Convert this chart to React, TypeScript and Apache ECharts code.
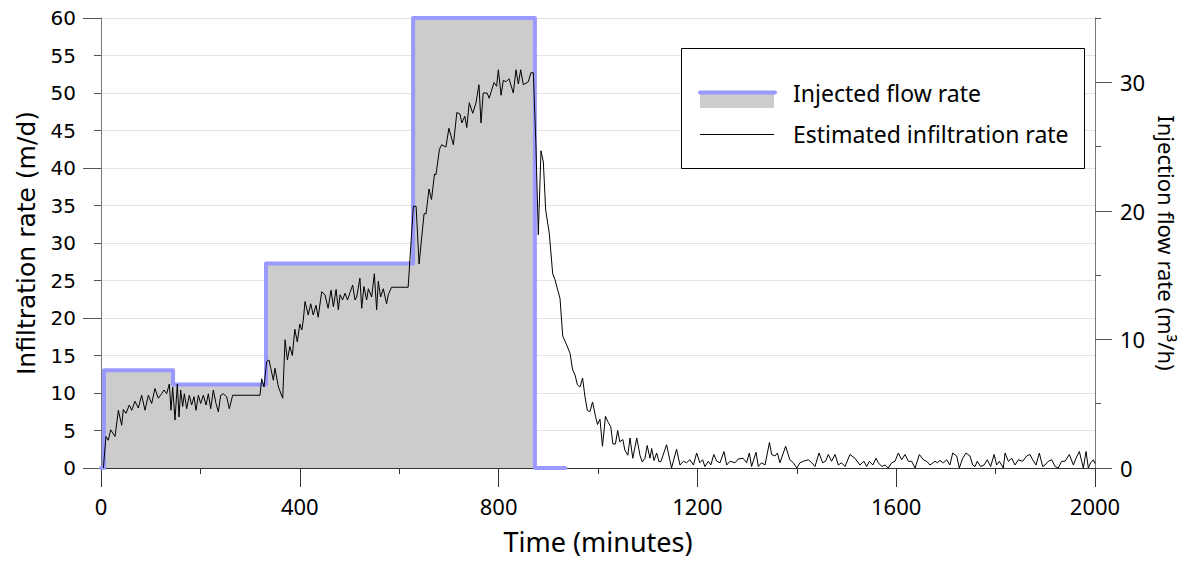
import React, { useEffect, useRef } from "react";
import * as echarts from "echarts";

// Injected flow rate (m³/h), step changes at these times (minutes)
const injTime = [0, 6, 145, 332, 628, 873, 934];
const injFlow = [0, 7.6, 6.5, 15.9, 35, 0, 0];

// Estimated infiltration rate (m/d) – [minutes, value]
const phase1: [number, number][] = [
  [4.7, 0], [10, 4.2], [14.7, 3.7], [19.4, 5.1], [28.2, 4.2], [34.9, 7.7], [41.6, 5.7], [44.9, 7.8],
  [50.3, 7.3], [57, 8.4], [61.7, 7.7], [68.4, 8.9], [75.1, 8.0], [81.8, 9.7], [88.5, 7.7], [95.2, 9.7],
  [101.9, 8.6], [108.6, 10.6], [115.3, 9.3], [122, 9.9], [126.7, 10.4], [132.1, 9.9], [137.5, 11.2],
  [140.8, 7.7], [144.2, 10.8],
];
const phase2: [number, number][] = [
  [148.9, 6.4], [153.6, 11.2], [157, 6.8], [160.3, 10.4], [164.3, 8.2], [167.7, 9.9], [172.4, 7.9],
  [177.7, 9.7], [182.4, 8.4], [187.1, 9.5], [191.1, 7.7], [195.9, 9.7], [200.5, 8.6], [205.9, 9.7],
  [211.3, 8.4], [216, 9.9], [220.7, 7.9], [226, 10.4], [231.4, 8.6], [236.1, 7.5], [240.8, 9.7],
  [246.1, 9.9], [252.9, 9.5], [258.2, 7.9], [264.9, 9.7], [319.9, 9.7], [323.3, 11.9], [328, 10.8],
  [333.3, 14.2], [338, 14.4], [346.8, 11.7], [350, 13.3], [357, 10.8], [365.6, 9.3], [370.3, 17.1],
  [375, 14.4], [380, 16.2], [385, 15.0], [390, 18.5], [395, 16.8], [400, 19.2], [404, 18.4],
];
const phase3: [number, number][] = [
  [407, 19.7], [410.5, 22.2], [417, 20.4], [422, 21.9], [427, 20.4], [432.6, 21.7], [437, 20.1],
  [444, 23.5], [450.6, 23.1], [457, 21.3], [462.8, 23.7], [467.6, 21.5], [473, 23.8], [477.6, 21.1],
  [481, 23.1], [486, 22.4], [491, 23.3], [496, 22.4], [501, 23.4], [506.4, 24.4], [511, 22.4],
  [514.4, 22.8], [521, 25.3], [524.5, 21.3], [529, 24.2], [534.5, 22.4], [538, 23.9], [544.6, 22.8],
  [550, 25.9], [554.6, 21.1], [558, 24.9], [562.6, 22.8], [568, 23.9], [574.6, 21.9], [578, 23.1],
  [584.6, 24.1], [618, 24.1],
];
const phase4: [number, number][] = [
  [628.5, 34.9], [634, 34.9], [640, 27.2], [650, 33.9], [654, 33.9], [660, 37.2], [665, 35.8],
  [671, 39.2], [674, 39.1], [681, 42.5], [685.5, 43.1], [694, 42.8], [700, 45.3], [709, 43.1],
  [716, 47.4], [722.3, 47.2], [726, 46.0], [732, 46.9], [736, 45.4], [741, 48.7], [748, 47.3],
  [754.5, 48.7], [760.5, 51.1], [764.6, 46.0], [769, 50.0], [777, 50.0], [781, 49.3], [790.8, 51.4],
  [796, 50.9], [799.5, 53.1], [805, 49.7], [809.5, 51.7], [815, 51.5], [821, 51.9], [829.6, 50.0],
  [835, 53.1], [839.7, 51.2], [844.4, 53.1], [849.7, 51.1], [859.8, 51.5], [865, 52.7], [869.9, 52.7],
];
const recession: [number, number][] = [
  [875, 43.3], [879.9, 31.1], [885.3, 42.3], [890, 40.8], [894.7, 34.4], [902, 31.3], [908.8, 25.9],
  [913.5, 25.1], [923.6, 22.6], [929, 17.6], [937, 16.4], [943.7, 15.3], [949, 13.1], [953.8, 12.4],
  [958.5, 11.1], [963.8, 10.8], [969, 12.0], [973.8, 9.5], [978.5, 7.7], [983.8, 7.5], [989, 8.8],
  [995, 6.9], [999, 5.8], [1004, 6.5], [1009, 2.9], [1015, 6.9], [1019.6, 6.2], [1025.7, 5.5],
  [1030, 3.2], [1035, 3.2], [1039.6, 5.0], [1044, 3.5], [1050, 3.8], [1054, 2.4], [1060, 1.7],
  [1064.4, 4.0], [1070, 1.3], [1078, 4.0], [1084.5, 1.7], [1089, 0.8], [1094.5, 1.3], [1099, 3.0],
  [1104.6, 1.3], [1108, 2.6], [1112.6, 1.0], [1118, 2.0], [1123, 0.8],
];
const tail: [number, number][] = [
  [1126.8, 0.9], [1138, 3.1], [1148, 0], [1158, 2.5], [1165, 0.4], [1172, 0.9], [1178, 0.7],
  [1185, 1.1], [1192, 0.4], [1198.5, 2.0], [1205, 0.7], [1210.6, 1.1], [1215, 0.2], [1222, 0.9],
  [1227, 0.4], [1233, 1.8], [1239, 0.9], [1245.5, 0.7], [1253.5, 2.2], [1259, 0.4], [1265.6, 0.9],
  [1275.7, 0.7], [1282, 1.2], [1292, 1.3], [1299, 0.7], [1304.5, 2.0], [1309, 0.2], [1318, 2.1],
  [1322.6, 0.2], [1329, 0.7], [1336, 0.4], [1345, 3.4], [1349.4, 1.8], [1356, 1.6], [1361, 2.0],
  [1366, 0.7], [1377.6, 2.9], [1386, 1.1], [1393, 0.7], [1400, 0], [1406.4, 0.7], [1413, 0.9],
  [1423, 1.1], [1430, 0.7], [1436.6, 0.2], [1444.7, 2.0], [1452, 0.7], [1458, 0.9], [1463.4, 1.8],
  [1470, 0.9], [1477, 1.8], [1483.6, 0.4], [1490, 0.7], [1497, 0.2], [1507, 1.8], [1517, 1.3],
  [1527, 0.4], [1535, 0.9], [1540.6, 0.2], [1546, 0.9], [1553, 0.4], [1559.4, 1.3], [1564, 0.7],
  [1571, 0.2], [1577.5, 0.4], [1584, 0], [1591, 0.7], [1597.6, 0.9], [1604.3, 2.0], [1611, 1.1],
  [1617.7, 1.8], [1624.5, 0.9], [1631, 0.9], [1638, 0], [1646.6, 1.8], [1654.6, 1.1], [1661.3, 0.9],
  [1668, 0.4], [1678, 0.9], [1683, 0.7], [1688, 1.0], [1695, 0.7], [1701.6, 1.1], [1708, 0.4],
  [1713.7, 2.0], [1721.7, 1.6], [1727, 0], [1733.8, 1.3], [1740.5, 2.0], [1748.5, 1.6], [1754, 0.4],
  [1758.6, 0.2], [1763, 0.9], [1770, 0.2], [1776.7, 0.4], [1783.4, 1.1], [1790, 0.2], [1797, 1.8],
  [1802.2, 0.4], [1807.6, 0.9], [1815.6, 0], [1819, 2.0], [1825.7, 0.9], [1832.4, 1.3], [1839, 0.4],
  [1845.8, 1.1], [1854.5, 0.9], [1862.5, 1.6], [1869.3, 1.8], [1874.6, 1.1], [1881.3, 0.4], [1888, 2.0],
  [1894.7, 0.2], [1899.4, 0.4], [1906, 0.9], [1913, 1.1], [1919.6, 0.2], [1926, 0], [1933, 0.9],
  [1939.7, 0.9], [1948.4, 1.8], [1956.5, 0.4], [1961.8, 1.3], [1968.5, 2.2], [1973.2, 0.9], [1976.6, 0],
  [1982, 2.2], [1986.6, 0], [1991.3, 0.7], [1996.7, 1.1], [2000, 0.6],
];

const xTicks = { min: 0, max: 2000, interval: 400 };
const leftTicks = { min: 0, max: 60, interval: 5 };
const rightTicks = { min: 0, max: 35, interval: 5 };
const rightLabelValues = [0, 10, 20, 30];

const legendNames = ["Injected flow rate", "Estimated infiltration rate"];

const AXIS = "#555";
const SANS = "Noto Sans";

export default function App() {
  const ref = useRef<HTMLDivElement>(null);
  useEffect(() => {
    if (!ref.current) return;
    const chart = echarts.init(ref.current, undefined, { renderer: "svg" });
    const injData = injTime.map((t, i) => [t, injFlow[i]]);
    const estData = [...phase1, ...phase2, ...phase3, ...phase4, ...recession, ...tail];
    chart.setOption({
      animation: false,
      backgroundColor: "#fff",
      grid: { left: 101, right: 95, top: 18, bottom: 96, containLabel: false },
      xAxis: {
        type: "value",
        ...xTicks,
        axisLine: { show: true, onZero: false, lineStyle: { color: "#333", width: 1 } },
        axisTick: { show: true, length: 19, lineStyle: { color: "#333" } },
        minorTick: { show: true, splitNumber: 2, length: 6, lineStyle: { color: "#333" } },
        axisLabel: {
          margin: 27,
          fontSize: 22,
          fontFamily: SANS,
          color: "#000",
          formatter: (v: number) => String(v),
        },
        splitLine: { show: false },
        name: "Time (minutes)",
        nameLocation: "middle",
        nameGap: 60,
        nameTextStyle: { fontSize: 27, fontFamily: SANS, color: "#000" },
      },
      yAxis: [
        {
          type: "value",
          position: "left",
          ...leftTicks,
          axisLine: { show: true, lineStyle: { color: "#777" } },
          axisTick: { show: true, length: 7, lineStyle: { color: AXIS } },
          axisLabel: { margin: 25, fontSize: 20, fontFamily: "DejaVu Sans", color: "#000" },
          splitLine: { show: true, lineStyle: { color: "#e3e3e3", width: 1 } },
          name: "Infiltration rate (m/d)",
          nameLocation: "middle",
          nameGap: 62,
          nameTextStyle: { fontSize: 25, fontFamily: "DejaVu Sans", color: "#000" },
        },
        {
          type: "value",
          position: "right",
          ...rightTicks,
          axisLine: { show: true, lineStyle: { color: "#777" } },
          axisTick: { show: true, length: 6, lineStyle: { color: AXIS } },
          axisLabel: {
            margin: 25,
            fontSize: 22,
            fontFamily: SANS,
            color: "#000",
            customValues: rightLabelValues,
          },
          splitLine: { show: false },
          name: "Injection flow rate (m³/h)",
          nameLocation: "middle",
          nameRotate: -90,
          nameGap: 61,
          nameTextStyle: { fontSize: 22, fontFamily: SANS, color: "#000" },
        },
        {
          type: "value",
          position: "left",
          min: 0,
          max: 60,
          interval: 20,
          axisLine: { show: false },
          axisTick: { show: true, length: 18, lineStyle: { color: AXIS } },
          axisLabel: { show: false },
          splitLine: { show: false },
        },
        {
          type: "value",
          position: "right",
          ...rightTicks,
          axisLine: { show: false },
          axisTick: { show: true, length: 17, lineStyle: { color: AXIS }, customValues: rightLabelValues },
          axisLabel: { show: false },
          splitLine: { show: false },
        },
      ],
      series: [
        {
          name: legendNames[0],
          type: "line",
          yAxisIndex: 1,
          step: "end",
          data: injData,
          showSymbol: false,
          symbol: "none",
          lineStyle: { color: "#9999ff", width: 4, cap: "round", join: "round" },
          areaStyle: { color: "#cccccc", opacity: 1 },
          z: 2,
        },
        {
          name: legendNames[1],
          type: "line",
          yAxisIndex: 0,
          data: estData,
          showSymbol: false,
          symbol: "none",
          lineStyle: { color: "#000", width: 1 },
          z: 3,
        },
      ],
      graphic: [
        {
          type: "rect",
          shape: { x: 681.5, y: 48.5, width: 403, height: 120 },
          style: { fill: "#fff", stroke: "#000", lineWidth: 1 },
          z: 10,
        },
        {
          type: "rect",
          shape: { x: 700, y: 94, width: 74, height: 14 },
          style: { fill: "#cccccc" },
          z: 11,
        },
        {
          type: "line",
          shape: { x1: 700, y1: 92.5, x2: 775, y2: 92.5 },
          style: { stroke: "#9999ff", lineWidth: 4, lineCap: "round" },
          z: 12,
        },
        {
          type: "line",
          shape: { x1: 700, y1: 134.5, x2: 774, y2: 134.5 },
          style: { stroke: "#000", lineWidth: 1 },
          z: 12,
        },
        {
          type: "text",
          x: 793,
          y: 93,
          style: { text: legendNames[0], fontSize: 23, fontFamily: SANS, fill: "#000", textVerticalAlign: "middle" },
          z: 12,
        },
        {
          type: "text",
          x: 793,
          y: 134,
          style: { text: legendNames[1], fontSize: 23, fontFamily: SANS, fill: "#000", textVerticalAlign: "middle" },
          z: 12,
        },
      ],
    });
    return () => chart.dispose();
  }, []);
  return (
    <div
      ref={ref}
      style={{ position: "fixed", left: 0, top: 0, width: 1190, height: 564, background: "#fff" }}
    />
  );
}
